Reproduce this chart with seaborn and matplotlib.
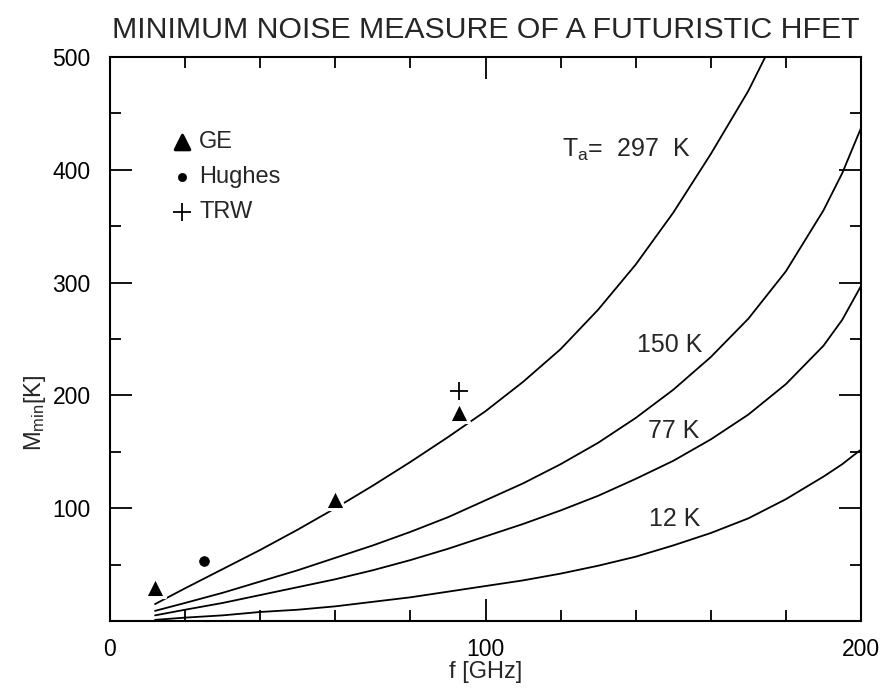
import numpy as np
import pandas as pd
import matplotlib
matplotlib.use("Agg")
import matplotlib.pyplot as plt
import seaborn as sns
from matplotlib.ticker import MultipleLocator, FixedLocator

# ---------------- data ----------------
freq_297 = [12, 20, 30, 40, 50, 60, 70, 80, 90, 100, 110, 120, 130, 140, 150, 160, 170, 174.5]
m_297 = [15, 29, 46, 63, 81, 100, 120, 141, 163, 186, 212, 241, 276, 316, 362, 414, 470, 500]

freq_all = [12, 20, 30, 40, 50, 60, 70, 80, 90, 100, 110, 120, 130, 140, 150, 160, 170, 180, 190, 195, 200]
m_150 = [9, 16, 25, 35, 45, 56, 67, 79, 92, 107, 122, 139, 158, 180, 205, 234, 268, 310, 364, 397, 437]
m_77 = [5, 10, 16, 23, 30, 37, 45, 54, 64, 75, 86, 98, 111, 126, 142, 161, 183, 210, 244, 267, 297]
m_12 = [1, 3, 5, 8, 10, 13, 17, 21, 26, 31, 36, 42, 49, 57, 67, 78, 91, 108, 128, 139, 152]

ge_f = [12, 60, 93]
ge_m = [30, 108, 185]
hughes_f = [25]
hughes_m = [53]
trw_f = [93]
trw_m = [204]

curve_labels = ["T$_\\mathrm{a}$=  297  K", "150 K", "77 K", "12 K"]
title = "MINIMUM NOISE MEASURE OF A FUTURISTIC HFET"
xlabel = "f [GHz]"
ylabel = "M$_\\mathrm{min}$[K]"
xticks = [0, 100, 200]
yticks = [100, 200, 300, 400, 500]

# ---------------- style ----------------
sns.set_theme(style="ticks")
plt.rcParams['font.family'] = ['Liberation Sans', 'DejaVu Sans']
plt.rcParams['mathtext.fontset'] = 'custom'
plt.rcParams['mathtext.rm'] = 'Liberation Sans'
plt.rcParams['mathtext.it'] = 'Liberation Sans'

fig = plt.figure(figsize=(8.91, 6.89), dpi=100)
ax = fig.add_axes([110/891, 1 - 621/689, (861-110)/891, (621-57)/689])

curves = pd.concat([
    pd.DataFrame({"f": freq_297, "M": m_297, "T": "297"}),
    pd.DataFrame({"f": freq_all, "M": m_150, "T": "150"}),
    pd.DataFrame({"f": freq_all, "M": m_77, "T": "77"}),
    pd.DataFrame({"f": freq_all, "M": m_12, "T": "12"}),
])
sns.lineplot(data=curves, x="f", y="M", units="T", estimator=None,
             color="black", linewidth=1.3, ax=ax, zorder=2, sort=False)

sns.scatterplot(x=ge_f, y=ge_m, marker="^", s=210, color="black",
                edgecolor="white", linewidth=2.2, ax=ax, zorder=4, label="GE")
sns.scatterplot(x=hughes_f, y=hughes_m, marker="o", s=50, color="black",
                edgecolor="black", linewidth=0.5, ax=ax, zorder=4, label="Hughes")
sns.scatterplot(x=trw_f, y=trw_m, marker="+", s=170, color="black",
                linewidth=1.3, ax=ax, zorder=4, label="TRW")

leg = ax.legend(loc="upper left", bbox_to_anchor=(0.067, 0.885), frameon=False,
                fontsize=17, handletextpad=0.25, labelspacing=0.55,
                handlelength=1.0, borderaxespad=0, markerscale=1.0)
for h in leg.legend_handles:
    h.set_edgecolor("black")
leg.legend_handles[0].set_sizes([110])
leg.legend_handles[1].set_sizes([35])
leg.legend_handles[2].set_sizes([170])

ax.set_xlim(0, 200)
ax.set_ylim(0, 500)
ax.xaxis.set_major_locator(FixedLocator(xticks))
ax.xaxis.set_minor_locator(MultipleLocator(20))
ax.yaxis.set_major_locator(FixedLocator([0] + yticks))
ax.yaxis.set_minor_locator(MultipleLocator(50))
ax.set_yticklabels([""] + [str(v) for v in yticks])
ax.set_xticklabels([str(v) for v in xticks])

ax.tick_params(which="both", direction="in", top=True, right=True,
               colors="black", labelsize=16.5, width=1.3)
ax.tick_params(which="major", length=16)
ax.tick_params(which="minor", length=8)
ax.tick_params(axis="x", which="major", pad=12)
ax.tick_params(axis="y", which="major", pad=14)
for s in ax.spines.values():
    s.set_linewidth(1.5)
    s.set_color("black")

ax.set_xlabel(xlabel, fontsize=17, labelpad=0)
ax.set_ylabel(ylabel, fontsize=17, labelpad=10)
ax.yaxis.set_label_coords(-0.082, 0.37)
ax.set_title(title, fontsize=21.8, pad=14)

# curve labels
ax.text(120.5, 418, curve_labels[0], fontsize=18, ha="left", va="center")
ax.text(149, 245, curve_labels[1], fontsize=18, ha="center", va="center")
ax.text(150, 168, curve_labels[2], fontsize=18, ha="center", va="center")
ax.text(150.5, 90, curve_labels[3], fontsize=18, ha="center", va="center")

fig.savefig("out.png", dpi=100)
